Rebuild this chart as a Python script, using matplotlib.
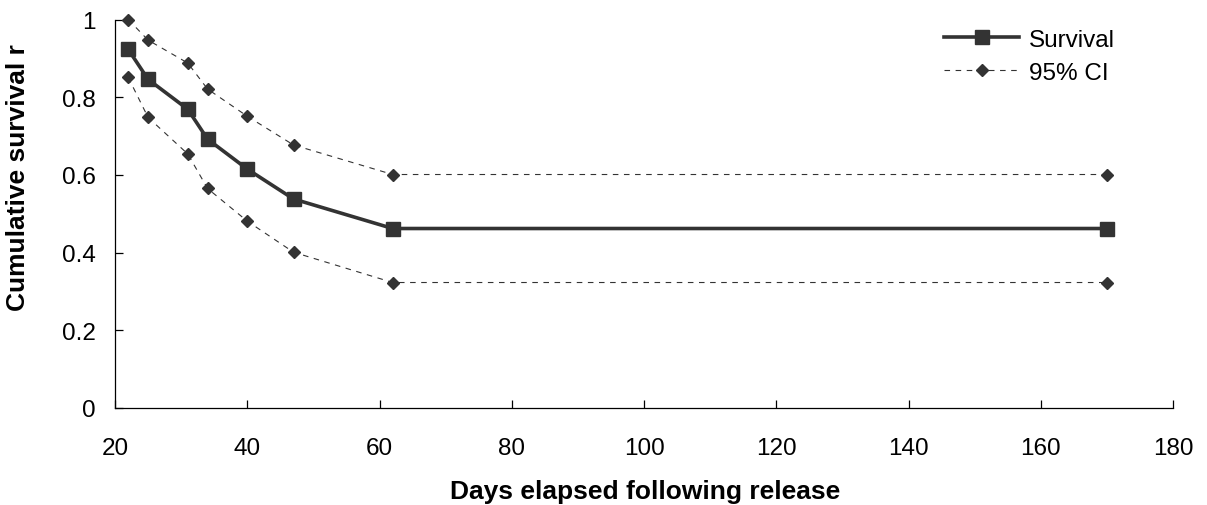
import numpy as np
import matplotlib

matplotlib.use("Agg")
import matplotlib.pyplot as plt

plt.rcParams["font.family"] = ["Liberation Sans", "DejaVu Sans"]

days = [22, 25, 31, 34, 40, 47, 62, 170]
survival = [0.923, 0.846, 0.769, 0.692, 0.615, 0.538, 0.462, 0.462]
ci_upper = [1.0, 0.947, 0.888, 0.821, 0.751, 0.677, 0.601, 0.601]
ci_lower = [0.851, 0.748, 0.654, 0.565, 0.481, 0.401, 0.323, 0.323]

xticks = [20, 40, 60, 80, 100, 120, 140, 160, 180]
yticks = [0, 0.2, 0.4, 0.6, 0.8, 1]
ytick_labels = ["0", "0.2", "0.4", "0.6", "0.8", "1"]

W, H = 1207, 506
fig = plt.figure(figsize=(W / 100, H / 100), dpi=100)
ax = fig.add_axes([115 / W, 1 - 409 / H, (1173 - 115) / W, (409 - 20.5) / H])

dark = "#333333"
ax.plot(days, survival, "-s", color=dark, lw=2.6, ms=9.5, label="Survival",
        clip_on=False, zorder=3)
ax.plot(days, ci_upper, "--D", color=dark, lw=0.8, ms=6.5, dashes=(5, 5),
        label="95% CI", clip_on=False, zorder=3)
ax.plot(days, ci_lower, "--D", color=dark, lw=0.8, ms=6.5, dashes=(5, 5),
        clip_on=False, zorder=3)

ax.set_xlim(20, 180)
ax.set_ylim(0, 1)
ax.set_xticks(xticks)
ax.set_yticks(yticks)
ax.set_yticklabels(ytick_labels)
ax.tick_params(direction="in", length=6, width=0.9, labelsize=17.5)
ax.tick_params(axis="x", pad=21)
ax.tick_params(axis="y", pad=14)
for s in ("top", "right"):
    ax.spines[s].set_visible(False)
for s in ("left", "bottom"):
    ax.spines[s].set_linewidth(0.9)

fig.text(645 / W, 1 - 492 / H, "Days elapsed following release",
         fontsize=19, fontweight="bold", ha="center", va="center")
fig.text(18 / W, 1 - 178 / H, "Cumulative survival r", rotation=90,
         fontsize=19, fontweight="bold", ha="center", va="center")

ax.legend(loc="upper left", bbox_to_anchor=(922 / W, 1 - 8 / H),
          bbox_transform=fig.transFigure, frameon=False, fontsize=17.5,
          handlelength=3.1, handletextpad=0.4, labelspacing=0.45)

fig.savefig("out.png", dpi=100)
